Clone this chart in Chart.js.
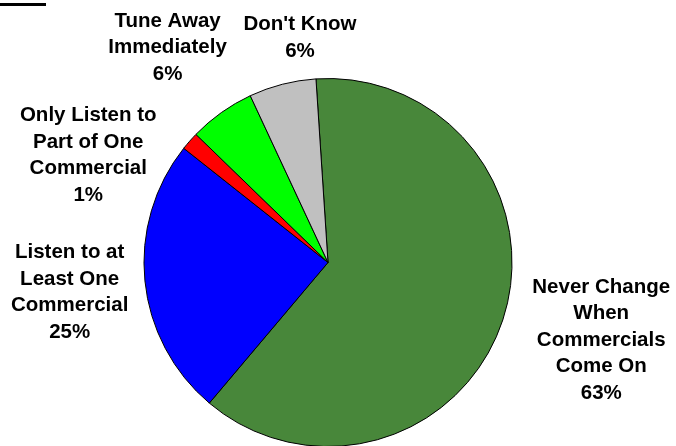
<!DOCTYPE html>
<html>
<head>
<meta charset="utf-8">
<script src="https://cdn.jsdelivr.net/npm/chart.js@4/dist/chart.umd.min.js"></script>
<style>
  html, body { margin: 0; padding: 0; background: #fff; }
  #wrap { width: 676px; height: 446px; position: relative; }
</style>
</head>
<body>
<div id="wrap"><canvas id="chart"></canvas></div>
<script>
// slices, clockwise from just left of 12 o'clock
const categories = [
  ['Never Change', 'When', 'Commercials', 'Come On'],
  ['Listen to at', 'Least One', 'Commercial'],
  ['Only Listen to', 'Part of One', 'Commercial'],
  ['Tune Away', 'Immediately'],
  ["Don't Know"],
];
const values = [62.2, 24.5, 1.6, 5.8, 5.9];
const pctLabels = ['63%', '25%', '1%', '6%', '6%'];
const colors = ['#48873A', '#0000FF', '#FF0000', '#00FF00', '#C0C0C0'];

// label block centre, relative to pie centre, in units of the radius
const labelOffsets = [
  [1.485, 0.413],
  [-1.404, 0.154],
  [-1.303, -0.592],
  [-0.872, -1.177],
  [-0.152, -1.231],
];

const labelPlugin = {
  id: 'sliceLabels',
  afterDraw(chart) {
    const ctx = chart.ctx;
    const arcs = chart.getDatasetMeta(0).data;
    const fs = 20.5;
    const lineH = 26.6;
    ctx.save();
    // cropped underline left over at the top-left corner
    ctx.fillStyle = '#000';
    ctx.fillRect(0, 3, 46, 3);
    ctx.font = 'bold ' + fs + 'px "Liberation Sans", Arial, sans-serif';
    ctx.textAlign = 'center';
    ctx.textBaseline = 'alphabetic';
    arcs.forEach((arc, i) => {
      const lines = categories[i].concat([pctLabels[i]]);
      const cx = arc.x + labelOffsets[i][0] * arc.outerRadius;
      const cy = arc.y + labelOffsets[i][1] * arc.outerRadius;
      const first = cy - (lines.length - 1) * lineH / 2 + 0.358 * fs;
      lines.forEach((t, k) => ctx.fillText(t, cx, first + k * lineH));
    });
    ctx.restore();
  }
};

new Chart(document.querySelector('#chart').getContext('2d'), {
  type: 'pie',
  data: {
    labels: categories.map(c => c.join(' ')),
    datasets: [
      {
        data: values,
        backgroundColor: colors,
        borderColor: '#000',
        borderWidth: 1,
      },
    ],
  },
  options: {
    responsive: true,
    maintainAspectRatio: false,
    animation: false,
    rotation: -3.75,
    radius: 184,
    layout: { padding: { top: 79, bottom: 0, left: 0, right: 20 } },
    plugins: {
      legend: { display: false },
      tooltip: { enabled: false },
    },
  },
  plugins: [labelPlugin],
});
</script>
</body>
</html>
